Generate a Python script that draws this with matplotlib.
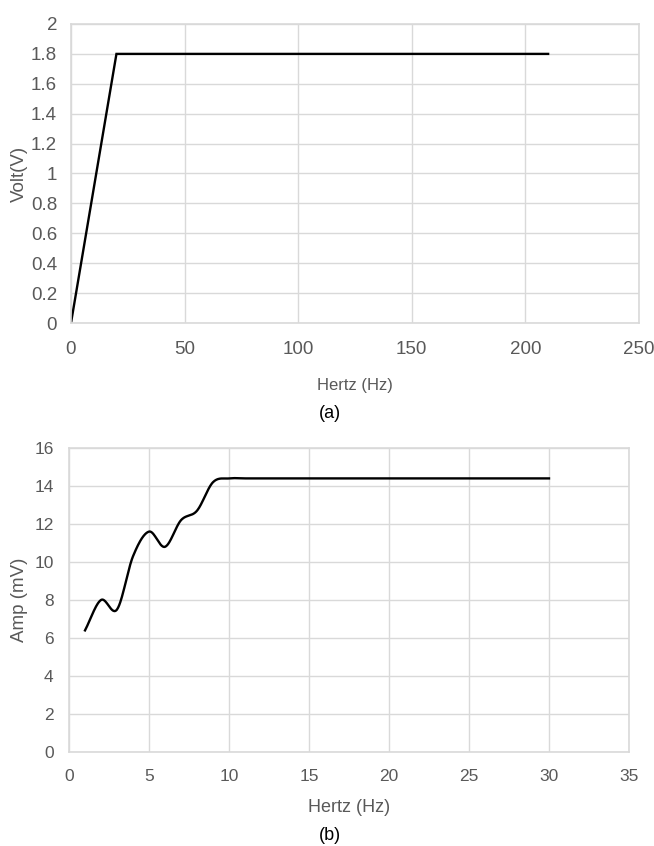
import numpy as np
import matplotlib
matplotlib.use("Agg")
import matplotlib.pyplot as plt

# ---- data ----
volt_hz = [0, 20, 210]
volt_v = [0, 1.8, 1.8]

amp_hz = [1, 2, 3, 4, 5, 6, 7, 8, 9, 10, 11, 12, 13, 14, 15, 16, 17, 18, 19, 20,
          21, 22, 23, 24, 25, 26, 27, 28, 29, 30]
amp_mv = [6.4, 8.0, 7.5, 10.3, 11.6, 10.8, 12.2, 12.7, 14.2, 14.4, 14.4, 14.4, 14.4, 14.4, 14.4,
          14.4, 14.4, 14.4, 14.4, 14.4, 14.4, 14.4, 14.4, 14.4, 14.4, 14.4, 14.4, 14.4, 14.4, 14.4]

top_xticks = [0, 50, 100, 150, 200, 250]
top_yticks = [0, 0.2, 0.4, 0.6, 0.8, 1, 1.2, 1.4, 1.6, 1.8, 2]
top_yticklabels = ["0", "0.2", "0.4", "0.6", "0.8", "1", "1.2", "1.4", "1.6", "1.8", "2"]
bot_xticks = [0, 5, 10, 15, 20, 25, 30, 35]
bot_yticks = [0, 2, 4, 6, 8, 10, 12, 14, 16]

arial = "Liberation Sans"
W, H = 654, 846

def smooth(x, y, n=30, tension=0.5):
    # cardinal spline through the given points (Excel-like smoothing)
    x = np.asarray(x, float); y = np.asarray(y, float)
    px = np.concatenate([[x[0]], x, [x[-1]]])
    py = np.concatenate([[y[0]], y, [y[-1]]])
    xs, ys = [], []
    t = np.linspace(0, 1, n)
    h00 = 2*t**3 - 3*t**2 + 1; h10 = t**3 - 2*t**2 + t
    h01 = -2*t**3 + 3*t**2; h11 = t**3 - t**2
    for i in range(1, len(px) - 2):
        p0x, p1x, p2x, p3x = px[i-1], px[i], px[i+1], px[i+2]
        p0y, p1y, p2y, p3y = py[i-1], py[i], py[i+1], py[i+2]
        seg = p2x - p1x
        s1 = seg / (p2x - p0x) * 2 if p2x != p0x else 1
        s2 = seg / (p3x - p1x) * 2 if p3x != p1x else 1
        m1x = tension * (p2x - p0x) * s1; m2x = tension * (p3x - p1x) * s2
        m1y = tension * (p2y - p0y) * s1; m2y = tension * (p3y - p1y) * s2
        xs.append(h00*p1x + h10*m1x + h01*p2x + h11*m2x)
        ys.append(h00*p1y + h10*m1y + h01*p2y + h11*m2y)
    return np.concatenate(xs), np.concatenate(ys)

fig = plt.figure(figsize=(W/100, H/100), dpi=100)
grid_c = "#d9d9d9"
tick_c = "#595959"

def style(ax, labelsize, ypad, xpad):
    ax.grid(True, color=grid_c, lw=1)
    ax.set_axisbelow(True)
    for s in ax.spines.values():
        s.set_color(grid_c); s.set_linewidth(1.2)
    ax.tick_params(length=0, colors=tick_c, labelsize=labelsize)
    ax.tick_params(axis="y", pad=ypad)
    ax.tick_params(axis="x", pad=xpad)
    for lab in ax.get_xticklabels() + ax.get_yticklabels():
        lab.set_fontfamily(arial)

# ---- (a) ----
a_l, a_r, a_t, a_b = 71, 639, 24, 323
ax1 = fig.add_axes([a_l/W, 1-a_b/H, (a_r-a_l)/W, (a_b-a_t)/H])
ax1.plot(volt_hz, volt_v, color="black", lw=1.7, solid_joinstyle="miter")
ax1.set_xlim(0, 250)
ax1.set_ylim(0, 2)
ax1.set_xticks(top_xticks)
ax1.set_yticks(top_yticks)
ax1.set_yticklabels(top_yticklabels)
style(ax1, 13.5, 10, 13)
ax1.set_ylabel("Volt(V)", fontsize=13.5, color=tick_c, family=arial, va="center")
ax1.yaxis.set_label_coords((19 - a_l)/(a_r - a_l), 0.5)
ax1.set_xlabel("Hertz (Hz)", fontsize=12, color=tick_c, family=arial, va="center")
ax1.xaxis.set_label_coords(0.5, (a_b - 385)/(a_b - a_t))
fig.text(330/W, 1 - 413/H, "(a)", ha="center", va="center", fontsize=13, family=arial, color="black")

# ---- (b) ----
b_l, b_r, b_t, b_b = 69, 629, 448, 752
ax2 = fig.add_axes([b_l/W, 1-b_b/H, (b_r-b_l)/W, (b_b-b_t)/H])
sx, sy = smooth(amp_hz, amp_mv)
ax2.plot(sx, sy, color="black", lw=1.7)
ax2.set_xlim(0, 35)
ax2.set_ylim(0, 16)
ax2.set_xticks(bot_xticks)
ax2.set_yticks(bot_yticks)
style(ax2, 12.5, 11, 12)
ax2.set_ylabel("Amp (mV)", fontsize=13.5, color=tick_c, family=arial, va="center")
ax2.yaxis.set_label_coords((19 - b_l)/(b_r - b_l), 0.5)
ax2.set_xlabel("Hertz (Hz)", fontsize=13, color=tick_c, family=arial, va="center")
ax2.xaxis.set_label_coords(0.5, (b_b - 807)/(b_b - b_t))
fig.text(330/W, 1 - 835/H, "(b)", ha="center", va="center", fontsize=13, family=arial, color="black")

fig.savefig("out.png", dpi=100, facecolor="white")
